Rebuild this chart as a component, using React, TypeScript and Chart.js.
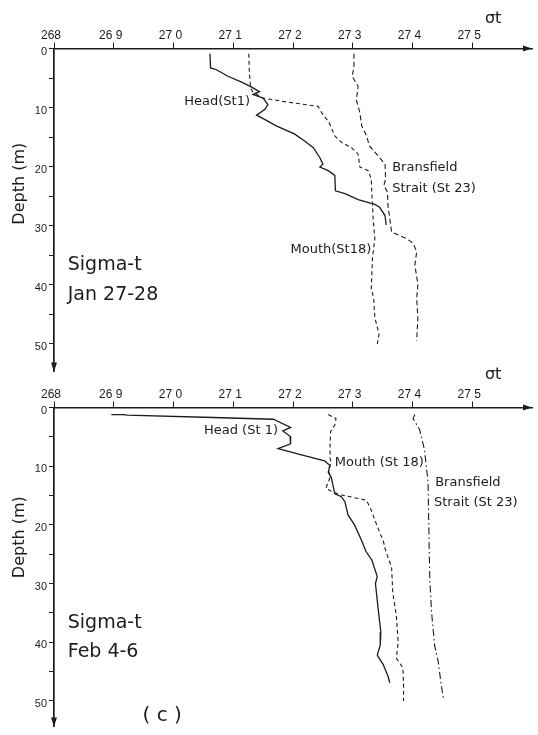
import React, { useEffect, useRef } from 'react';
import { Chart, registerables } from 'chart.js';

Chart.register(...registerables);

// ---------- tick labels ----------
const xTickLabels = ['268', '26 9', '27 0', '27 1', '27 2', '27 3', '27 4', '27 5'];
const sigmaMin = 26.8;
const sigmaMax = 27.6;
const depthStep = 5;

// ---------- Panel 1 : Jan 27-28 ----------
const janHeadSigma = [27.061, 27.062, 27.072, 27.091, 27.114, 27.130, 27.144, 27.133, 27.150, 27.158, 27.153, 27.139, 27.147, 27.172, 27.203, 27.220, 27.234, 27.245, 27.250, 27.245, 27.259, 27.270, 27.271, 27.287, 27.309, 27.337, 27.345, 27.354, 27.356];
const janHeadDepth = [0.9, 3.3, 3.6, 4.7, 5.7, 6.5, 7.3, 7.8, 8.4, 9.5, 10.3, 11.3, 11.7, 13.1, 14.5, 15.7, 16.8, 18.5, 19.6, 20.1, 20.7, 21.5, 24.1, 24.6, 25.6, 26.4, 26.9, 28.3, 29.9];

const janMouthSigma = [27.126, 27.127, 27.129, 27.133, 27.150, 27.192, 27.242, 27.250, 27.259, 27.264, 27.270, 27.281, 27.298, 27.309, 27.312, 27.326, 27.331, 27.332, 27.333, 27.334, 27.337, 27.333, 27.331, 27.335, 27.337, 27.344, 27.341];
const janMouthDepth = [0.9, 4.2, 6.7, 7.4, 8.4, 9.1, 9.8, 11.2, 12.3, 13.4, 14.8, 15.9, 16.8, 17.9, 20.1, 20.7, 22.1, 24.9, 26.0, 28.8, 32.2, 35.5, 40.6, 42.3, 45.6, 48.4, 50.1];

const janBransSigma = [27.302, 27.302, 27.299, 27.309, 27.306, 27.312, 27.315, 27.323, 27.328, 27.340, 27.354, 27.355, 27.352, 27.358, 27.359, 27.362, 27.365, 27.390, 27.401, 27.407, 27.404, 27.409, 27.407, 27.409, 27.407];
const janBransDepth = [0.9, 3.1, 4.7, 6.4, 8.7, 10.9, 13.1, 14.8, 16.5, 17.9, 19.6, 22.1, 23.2, 24.3, 26.6, 28.8, 31.1, 32.2, 33.0, 34.4, 36.7, 40.0, 42.3, 45.6, 49.5];

// ---------- Panel 2 : Feb 4-6 ----------
const febHeadSigma = [26.896, 26.916, 26.922, 27.066, 27.167, 27.196, 27.183, 27.195, 27.196, 27.175, 27.211, 27.253, 27.262, 27.259, 27.264, 27.270, 27.281, 27.287, 27.292, 27.303, 27.315, 27.322, 27.332, 27.341, 27.338, 27.342, 27.347, 27.346, 27.341, 27.351, 27.359, 27.362];
const febHeadDepth = [1.2, 1.2, 1.3, 1.7, 2.0, 3.4, 4.0, 4.9, 6.2, 7.0, 8.0, 9.1, 9.9, 11.0, 11.9, 14.7, 15.2, 16.1, 18.3, 20.0, 22.7, 24.5, 26.0, 28.8, 30.0, 33.8, 38.3, 40.5, 42.2, 43.8, 45.8, 46.9];

const febMouthSigma = [27.259, 27.272, 27.270, 27.263, 27.262, 27.262, 27.264, 27.259, 27.262, 27.255, 27.267, 27.281, 27.323, 27.331, 27.340, 27.351, 27.355, 27.365, 27.367, 27.373, 27.376, 27.373, 27.384, 27.385, 27.385];
const febMouthDepth = [1.2, 1.9, 3.0, 4.1, 6.3, 8.6, 9.4, 10.5, 11.9, 13.8, 14.4, 14.9, 15.8, 17.5, 20.0, 22.7, 24.4, 27.2, 31.6, 35.5, 40.0, 42.7, 44.4, 47.2, 50.0];

const febBransSigma = [27.404, 27.401, 27.412, 27.420, 27.426, 27.427, 27.428, 27.429, 27.432, 27.437, 27.443, 27.448, 27.452];
const febBransDepth = [1.2, 1.9, 3.8, 7.2, 12.7, 18.3, 24.4, 29.4, 35.0, 40.5, 43.3, 47.2, 49.7];

const INK = '#1c1c1c';
const FONT = '"DejaVu Sans", "Liberation Sans", sans-serif';

type Ann = { text: string; x: number; y: number; align: CanvasTextAlign; size: number };

const janAnnotations: Ann[] = [
  { text: 'Head(St1)', x: 27.128, y: 9.5, align: 'right', size: 13 },
  { text: 'Bransfield', x: 27.366, y: 20.8, align: 'left', size: 13 },
  { text: 'Strait (St 23)', x: 27.366, y: 24.3, align: 'left', size: 13 },
  { text: 'Mouth(St18)', x: 27.331, y: 34.7, align: 'right', size: 13 },
  { text: 'Sigma-t', x: 26.823, y: 37.6, align: 'left', size: 19 },
  { text: 'Jan 27-28', x: 26.823, y: 42.6, align: 'left', size: 19 },
];

const febAnnotations: Ann[] = [
  { text: 'Head (St 1)', x: 27.051, y: 4.6, align: 'left', size: 13 },
  { text: 'Mouth (St 18)', x: 27.270, y: 9.9, align: 'left', size: 13 },
  { text: 'Bransfield', x: 27.438, y: 13.4, align: 'left', size: 13 },
  { text: 'Strait (St 23)', x: 27.436, y: 16.8, align: 'left', size: 13 },
  { text: 'Sigma-t', x: 26.823, y: 37.5, align: 'left', size: 19 },
  { text: 'Feb 4-6', x: 26.823, y: 42.5, align: 'left', size: 19 },
  { text: '( c )', x: 26.981, y: 53.5, align: 'center', size: 20 },
];

const zip = (s: number[], d: number[]) => s.map((v, i) => ({ x: v, y: d[i] }));

const decorPlugin = {
  id: 'decor',
  afterDraw(chart: any, _args: any, opts: any) {
    const { ctx, chartArea: ca, scales } = chart;
    const xs = scales.x;
    const ys = scales.y;
    ctx.save();
    ctx.fillStyle = INK;
    // x-axis arrow head
    ctx.beginPath();
    ctx.moveTo(ca.right, ca.top);
    ctx.lineTo(ca.right - 9, ca.top - 3);
    ctx.lineTo(ca.right - 9, ca.top + 3);
    ctx.closePath();
    ctx.fill();
    // y-axis arrow head
    ctx.beginPath();
    ctx.moveTo(ca.left, ca.bottom);
    ctx.lineTo(ca.left - 3, ca.bottom - 9);
    ctx.lineTo(ca.left + 3, ca.bottom - 9);
    ctx.closePath();
    ctx.fill();
    // annotations
    ctx.textBaseline = 'alphabetic';
    for (const a of opts.annotations as Ann[]) {
      ctx.font = `${a.size}px ${FONT}`;
      ctx.textAlign = a.align;
      ctx.fillText(a.text, xs.getPixelForValue(a.x), ys.getPixelForValue(a.y));
    }
    // sigma-t axis label
    ctx.font = `16px ${FONT}`;
    ctx.textAlign = 'center';
    ctx.fillText('σt', xs.getPixelForValue(opts.sigmaLabelAt), ca.top - opts.sigmaLabelRise);
    // depth axis title
    ctx.translate(ca.left - 34, ys.getPixelForValue(opts.depthTitleAt));
    ctx.rotate(-Math.PI / 2);
    ctx.font = `16px ${FONT}`;
    ctx.textAlign = 'center';
    ctx.textBaseline = 'middle';
    ctx.fillText('Depth (m)', 0, 0);
    ctx.restore();
  },
};

type PanelProps = {
  top: number;
  height: number;
  axisTop: number;
  padBottom: number;
  yMax: number;
  head: { x: number; y: number }[];
  mouth: { x: number; y: number }[];
  brans: { x: number; y: number }[];
  bransDash: number[];
  annotations: Ann[];
  depthTitleAt: number;
  sigmaLabelRise: number;
};

function Panel(p: PanelProps) {
  const ref = useRef<HTMLCanvasElement>(null);
  useEffect(() => {
    Chart.defaults.font.family = '"Liberation Sans", sans-serif';
    const chart = new Chart(ref.current!, {
      type: 'line',
      data: {
        datasets: [
          { label: 'Head', data: p.head, borderColor: INK, borderWidth: 1.3, pointRadius: 0, tension: 0, fill: false },
          { label: 'Mouth', data: p.mouth, borderColor: INK, borderWidth: 1.1, borderDash: [4, 3], pointRadius: 0, tension: 0, fill: false },
          { label: 'Bransfield', data: p.brans, borderColor: INK, borderWidth: 1.1, borderDash: p.bransDash, pointRadius: 0, tension: 0, fill: false },
        ],
      },
      options: {
        responsive: false,
        animation: false,
        devicePixelRatio: 1,
        layout: { padding: { left: 0, right: 6, top: 0, bottom: p.padBottom } },
        plugins: {
          legend: { display: false },
          tooltip: { enabled: false },
          decor: {
            annotations: p.annotations,
            sigmaLabelAt: 27.535,
            sigmaLabelRise: p.sigmaLabelRise,
            depthTitleAt: p.depthTitleAt,
          },
        } as any,
        scales: {
          x: {
            type: 'linear',
            position: 'top',
            min: sigmaMin,
            max: sigmaMax,
            afterFit: (s: any) => { s.height = p.axisTop; },
            ticks: {
              stepSize: 0.1,
              autoSkip: false,
              maxRotation: 0,
              padding: 0,
              labelOffset: -3,
              color: INK,
              font: { size: 12 },
              callback: (_v: any, i: number) => (i < xTickLabels.length ? xTickLabels[i] : null),
            },
            grid: { drawOnChartArea: false, drawTicks: true, tickLength: 6, color: INK, lineWidth: 1 },
            border: { display: true, color: INK, width: 1.5 },
          },
          y: {
            type: 'linear',
            reverse: true,
            min: 0,
            max: p.yMax,
            afterFit: (s: any) => { s.width = 54; },
            ticks: {
              stepSize: depthStep,
              includeBounds: false,
              autoSkip: false,
              padding: 2,
              labelOffset: 3,
              color: INK,
              font: { size: 11 },
              callback: (v: any) => (Number(v) % 10 === 0 ? String(v) : ''),
            },
            grid: { drawOnChartArea: false, drawTicks: true, tickLength: 5, color: INK, lineWidth: 1 },
            border: { display: true, color: INK, width: 1.7 },
          },
        },
      } as any,
      plugins: [decorPlugin as any],
    });
    return () => chart.destroy();
  }, []);
  return (
    <canvas
      ref={ref}
      width={538}
      height={p.height}
      style={{ position: 'absolute', left: 0, top: p.top, width: 538, height: p.height }}
    />
  );
}

export default function App() {
  return (
    <div style={{ position: 'absolute', left: 0, top: 0, width: 538, height: 735, background: '#fff', overflow: 'hidden' }}>
      <Panel
        top={0}
        height={380}
        axisTop={48.5}
        padBottom={6}
        yMax={54.7}
        head={zip(janHeadSigma, janHeadDepth)}
        mouth={zip(janMouthSigma, janMouthDepth)}
        brans={zip(janBransSigma, janBransDepth)}
        bransDash={[5, 3]}
        annotations={janAnnotations}
        depthTitleAt={22.9}
        sigmaLabelRise={26}
      />
      <Panel
        top={355}
        height={380}
        axisTop={52.5}
        padBottom={2}
        yMax={54.34}
        head={zip(febHeadSigma, febHeadDepth)}
        mouth={zip(febMouthSigma, febMouthDepth)}
        brans={zip(febBransSigma, febBransDepth)}
        bransDash={[7, 3, 1.5, 3]}
        annotations={febAnnotations}
        depthTitleAt={22.1}
        sigmaLabelRise={29}
      />
    </div>
  );
}
